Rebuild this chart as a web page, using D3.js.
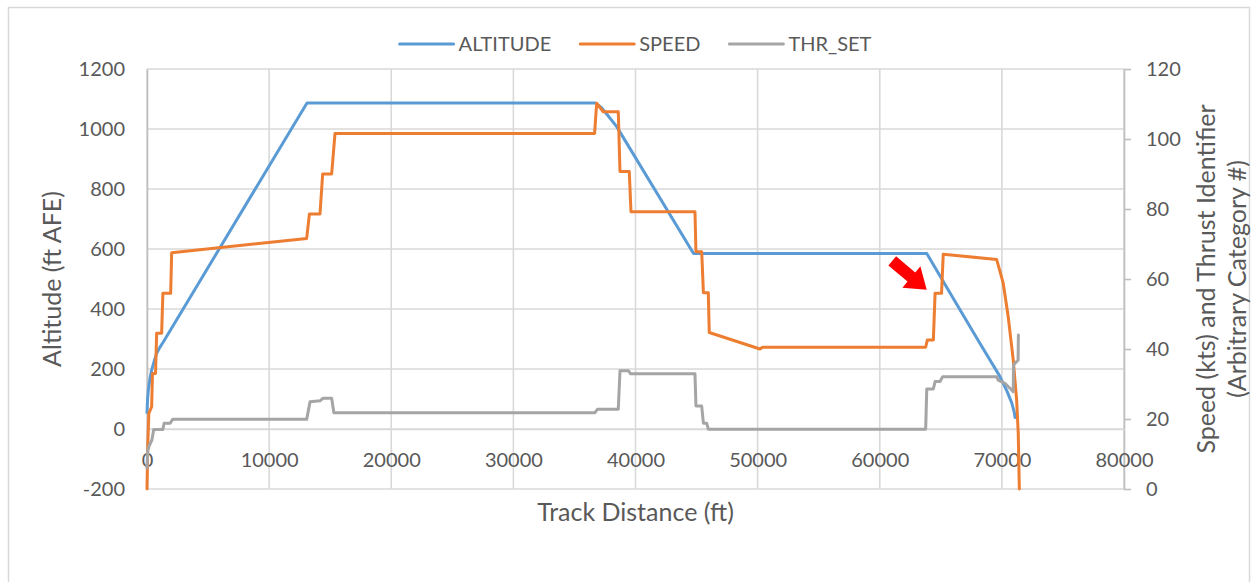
<!DOCTYPE html>
<html><head><meta charset="utf-8">
<script src="https://cdn.jsdelivr.net/npm/d3@7"></script>
<style>
html,body{margin:0;padding:0;background:#fff;}
text{font-family:Lato,"Open Sans",sans-serif;fill:#595959;}
</style></head>
<body><svg id="c" width="1254" height="582"></svg>
<script>
// ---- data (Track Distance ft, value) ----
const altitude = [[0,55],[50,100],[110,130],[250,170],[385,197],[600,228],[790,252],[1050,272],[1335,290],
  [13100,1087],[36700,1087],[37200,1072],[37640,1050],[38459,1008],[44750,585],[63850,585],
  [66000,437],[68210,285],[69800,178],[70400,128],[70800,88],[71000,58],[71080,38]];
const speed = [[0,0],[60,12],[150,21.6],[380,23.5],[450,33],[700,33],[790,44.5],[1200,44.5],[1300,55.9],[1937,55.9],
  [2020,67.5],[13075,71.6],[13300,78.6],[14166,78.6],[14384,90],[15121,90],[15394,101.6],[36650,101.6],
  [36820,110.2],[37360,107.8],[38590,107.8],[38730,90.7],[39490,90.7],[39630,79.2],[44870,79.2],
  [44950,67.8],[45420,67.8],[45560,56.1],[45960,56.1],[46040,44.7],[50195,40],[50400,40.5],[63760,40.5],
  [63900,42.6],[64390,42.6],[64530,55.9],[65060,55.9],[65200,67.1],[69570,65.6],[70110,58.8],[70520,49.2],
  [70930,36.9],[71210,25.4],[71340,15.9],[71430,0]];
const thrSet = [[0,6],[60,11],[200,12.5],[400,14],[550,17],[1300,17],[1400,18.8],[1900,18.8],[2100,19.9],
  [13075,19.9],[13350,24.9],[14166,25.2],[14400,25.9],[15121,25.9],[15300,21.8],[36680,21.8],[36900,22.8],
  [38590,22.8],[38730,33.8],[39410,33.8],[39600,32.9],[44870,32.9],[44950,23.7],[45420,23.7],[45560,18.8],
  [45830,18.8],[45960,17.1],[63760,17.1],[63850,28.6],[64390,28.6],[64530,30.7],[64940,30.7],[65150,32.1],
  [69570,32.1],[69700,31.1],[70250,30.2],[70800,28.3],[70930,27.8],[70950,35.4],[71210,36.4],[71330,36.8],[71350,44]];
const xTicks = [0,10000,20000,30000,40000,50000,60000,70000,80000];
const leftTicks = [-200,0,200,400,600,800,1000,1200];
const rightTicks = [0,20,40,60,80,100,120];
const seriesNames = ["ALTITUDE","SPEED","THR_SET"];
const seriesColors = ["#5B9BD5","#ED7D31","#A5A5A5"];
const arrowTip = [63845, 56.9]; // annotation arrow tip (distance, speed)

const svg = d3.select("#c");
const FS = 20, TFS = 25;
const fmt = d => String(d);
svg.append("rect").attr("x",8.5).attr("y",7.5).attr("width",1241).attr("height",580)
  .attr("fill","#fff").attr("stroke","#d9d9d9").attr("stroke-width",1.5);

const x = d3.scaleLinear().domain([0,80000]).range([147,1124]);
const yL = d3.scaleLinear().domain([-200,1200]).range([489,69]);
const yR = d3.scaleLinear().domain([0,120]).range([489,69]);

// gridlines
const g = svg.append("g");
g.selectAll("line.h").data(leftTicks).join("line")
  .attr("x1",x(0)).attr("x2",x(80000)).attr("y1",d=>yL(d)).attr("y2",d=>yL(d))
  .attr("stroke","#d9d9d9").attr("stroke-width",1.6);
g.selectAll("line.v").data(xTicks).join("line")
  .attr("x1",d=>x(d)).attr("x2",d=>x(d)).attr("y1",yL(1200)).attr("y2",yL(-200))
  .attr("stroke","#d9d9d9").attr("stroke-width",1.6);

function styleAxis(sel){
  sel.selectAll("text").style("font-size",FS+"px").attr("fill","#595959");
  sel.selectAll(".domain").attr("stroke","#bfbfbf").attr("stroke-width",1.6);
  sel.selectAll(".tick line").attr("stroke","#bfbfbf").attr("stroke-width",1.6);
  sel.attr("font-family",null);
}
svg.append("g").attr("transform",`translate(${x(0)},0)`)
  .call(d3.axisLeft(yL).tickValues(leftTicks).tickFormat(fmt).tickSize(0).tickSizeOuter(0).tickPadding(22))
  .call(styleAxis);
svg.append("g").attr("transform",`translate(${x(80000)},0)`)
  .call(d3.axisRight(yR).tickValues(rightTicks).tickFormat(fmt).tickSize(7).tickSizeOuter(0).tickPadding(15))
  .call(styleAxis);
const xa = svg.append("g").attr("transform",`translate(0,${yL(0)})`)
  .call(d3.axisBottom(x).tickValues(xTicks).tickFormat(fmt).tickSize(0).tickSizeOuter(0).tickPadding(24))
  .call(styleAxis);
xa.select(".domain").attr("stroke","#d9d9d9");

// series
const lineL = d3.line().x(d=>x(d[0])).y(d=>yL(d[1]));
const lineR = d3.line().x(d=>x(d[0])).y(d=>yR(d[1]));
const series = [[altitude,lineL],[speed,lineR],[thrSet,lineR]];
series.forEach((s,i)=>{
  svg.append("path").datum(s[0]).attr("d",s[1]).attr("fill","none")
    .attr("stroke",seriesColors[i]).attr("stroke-width",3)
    .attr("stroke-linejoin","round").attr("stroke-linecap","round");
});

// annotation arrow
{
  const tx = x(arrowTip[0]), ty = yR(arrowTip[1]);
  const L=45, hl=20, sw=6, hw=14;
  const pts = [[0,0],[-hl,-hw],[-hl,-sw],[-L,-sw],[-L,sw],[-hl,sw],[-hl,hw]];
  svg.append("polygon").attr("points",pts.map(p=>p.join(",")).join(" "))
    .attr("fill","#FF0000")
    .attr("transform",`translate(${tx},${ty}) rotate(40)`);
}

// axis titles
svg.append("text").attr("transform",`translate(52,${(69+489)/2}) rotate(-90)`)
  .attr("text-anchor","middle").attr("dy","0.35em").style("font-size",TFS+"px").text("Altitude (ft AFE)");
svg.append("text").attr("transform",`translate(1206,${(69+489)/2}) rotate(-90)`)
  .attr("text-anchor","middle").attr("dy","0.35em").style("font-size",TFS+"px").text("Speed (kts) and Thrust Identifier");
svg.append("text").attr("transform",`translate(1237,${(69+489)/2}) rotate(-90)`)
  .attr("text-anchor","middle").attr("dy","0.35em").style("font-size",TFS+"px").text("(Arbitrary Category #)");
svg.append("text").attr("x",(147+1124)/2).attr("y",512).attr("dy","0.35em")
  .attr("text-anchor","middle").style("font-size",TFS+"px").text("Track Distance (ft)");

// legend
const leg = svg.append("g");
let cx = 0;
seriesNames.forEach((n,i)=>{
  const it = leg.append("g").attr("transform",`translate(${cx},0)`);
  it.append("line").attr("x1",0).attr("x2",54).attr("y1",0).attr("y2",0)
    .attr("stroke",seriesColors[i]).attr("stroke-width",3).attr("stroke-linecap","round");
  const t = it.append("text").attr("x",59).attr("dy","0.35em").style("font-size",FS+"px").text(n);
  cx += 59 + t.node().getComputedTextLength() + 29;
});
const lw = cx - 29;
leg.attr("transform",`translate(${(147+1124)/2 - lw/2},44)`);
</script></body></html>
